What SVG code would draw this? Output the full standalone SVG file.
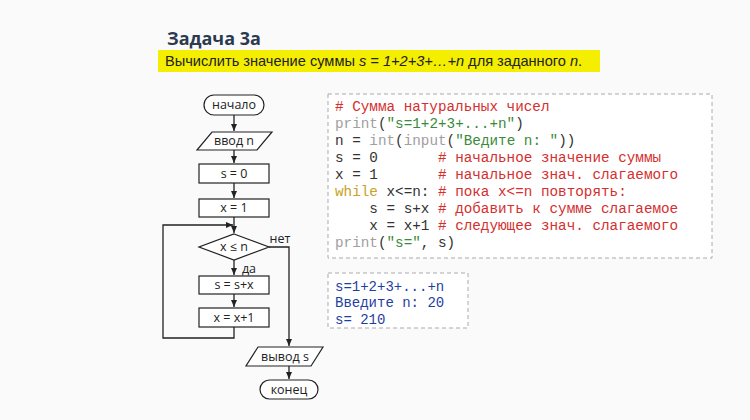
<svg xmlns="http://www.w3.org/2000/svg" width="750" height="420" viewBox="0 0 750 420">
<style>
.n{fill:#fff;stroke:#222;stroke-width:1.2}
.t{font-family:"Open Sans","DejaVu Sans",sans-serif;font-size:12.5px;fill:#222;text-anchor:middle}
.c{stroke:#222;stroke-width:1.3;fill:none}
.code{font-family:"Liberation Mono",monospace;font-size:14.3px;fill:#333;white-space:pre}
.cm{fill:#d42f2f}.kw{fill:#a0a0a0}.wh{fill:#c9a227}.st{fill:#3a8a3a}
</style>
<defs><marker id="a" markerWidth="8" markerHeight="8" refX="7" refY="4" orient="auto" markerUnits="userSpaceOnUse"><path d="M0,1 L7,4 L0,7 z" fill="#222"/></marker></defs>
<rect width="750" height="420" fill="#fafafa"/>
<text x="167" y="45" font-family="Open Sans,DejaVu Sans,sans-serif" font-weight="bold" font-size="18" fill="#2b3a4f">Задача 3а</text>
<rect x="158" y="50" width="442" height="22" fill="#f4ee00"/>
<text x="165" y="66" font-family="Liberation Sans,sans-serif" font-size="14.6" fill="#222">Вычислить значение суммы <tspan font-style="italic">s = 1+2+3+…+n</tspan>  для заданного <tspan font-style="italic">n</tspan>.</text>
<g id="connectors">
<path class="c" d="M234,115 V131" marker-end="url(#a)"/>
<path class="c" d="M234,150 V163" marker-end="url(#a)"/>
<path class="c" d="M234,183 V198" marker-end="url(#a)"/>
<path class="c" d="M234,217 V233" marker-end="url(#a)"/>
<path class="c" d="M234,260 V275" marker-end="url(#a)"/>
<path class="c" d="M234,294 V307" marker-end="url(#a)"/>
<path class="c" d="M234,327 V338 H163 V225 H233" marker-end="url(#a)"/>
<path class="c" d="M269,247 H289 V346" marker-end="url(#a)"/>
<path class="c" d="M289,366 V379" marker-end="url(#a)"/>
<text class="t" x="280" y="243">нет</text>
<text class="t" x="249" y="273">да</text>
</g>
<g id="start"><rect class="n" x="204" y="95" width="60" height="20" rx="10"/><text class="t" x="234" y="109">начало</text></g>
<g id="input"><polygon class="n" points="212,132 272,132 257,150 197,150"/><text class="t" x="234" y="145">ввод n</text></g>
<g id="s0"><rect class="n" x="199" y="164" width="70" height="19"/><text class="t" x="234" y="178">s = 0</text></g>
<g id="x1"><rect class="n" x="199" y="199" width="70" height="18"/><text class="t" x="234" y="212">x = 1</text></g>
<g id="cond"><polygon class="n" points="234,234 269,247 234,260 199,247"/><text class="t" x="234" y="251">x ≤ n</text></g>
<g id="sum"><rect class="n" x="199" y="276" width="70" height="18"/><text class="t" x="234" y="289">s = s+x</text></g>
<g id="inc"><rect class="n" x="199" y="308" width="70" height="19"/><text class="t" x="234" y="322">x = x+1</text></g>
<g id="output"><polygon class="n" points="258,347 323,347 311,366 246,366"/><text class="t" x="285" y="361">вывод s</text></g>
<g id="end"><rect class="n" x="260" y="380" width="58" height="19" rx="9.5"/><text class="t" x="289" y="394">конец</text></g>
<g id="code">
<rect x="328" y="94" width="384" height="164" fill="#fff" stroke="#aaa" stroke-dasharray="4,3"/>
<text class="code" x="335" y="111"><tspan class="cm"># Сумма натуральных чисел</tspan></text>
<text class="code" x="335" y="128"><tspan class="kw">print</tspan>(<tspan class="st">"s=1+2+3+...+n"</tspan>)</text>
<text class="code" x="335" y="145">n = <tspan class="kw">int</tspan>(<tspan class="kw">input</tspan>(<tspan class="st">"Ведите n: "</tspan>))</text>
<text class="code" x="335" y="162">s = 0       <tspan class="cm"># начальное значение суммы</tspan></text>
<text class="code" x="335" y="179">x = 1       <tspan class="cm"># начальное знач. слагаемого</tspan></text>
<text class="code" x="335" y="196"><tspan class="wh">while</tspan> x&lt;=n: <tspan class="cm"># пока x&lt;=n повторять:</tspan></text>
<text class="code" x="335" y="213">    s = s+x <tspan class="cm"># добавить к сумме слагаемое</tspan></text>
<text class="code" x="335" y="230">    x = x+1 <tspan class="cm"># следующее знач. слагаемого</tspan></text>
<text class="code" x="335" y="247"><tspan class="kw">print</tspan>(<tspan class="st">"s="</tspan>, s)</text>
</g>
<g id="out">
<rect x="328" y="273" width="140" height="55" fill="#fff" stroke="#aaa" stroke-dasharray="4,3"/>
<text class="code" x="335" y="291" style="fill:#1f3fa0;font-size:14px">s=1+2+3+...+n</text>
<text class="code" x="335" y="307" style="fill:#1f3fa0;font-size:14px">Введите n: 20</text>
<text class="code" x="335" y="324" style="fill:#1f3fa0;font-size:14px">s= 210</text>
</g>
</svg>
